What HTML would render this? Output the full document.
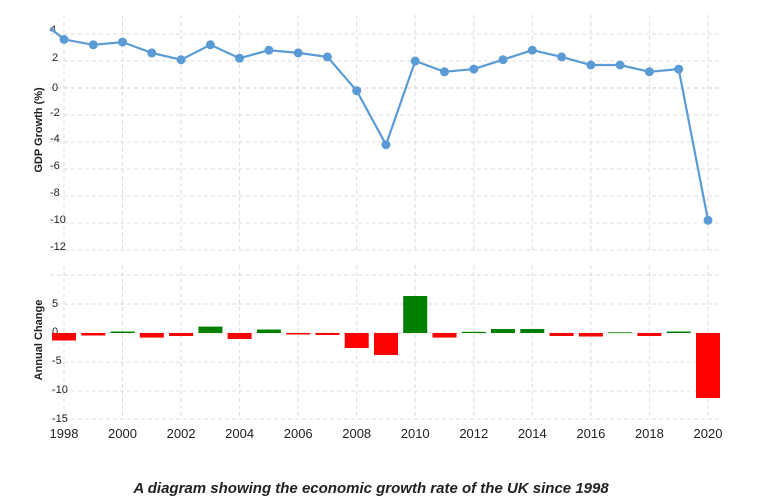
<!DOCTYPE html>
<html><head><meta charset="utf-8"><style>
body{margin:0;background:#fff;width:757px;height:500px;overflow:hidden}
svg{display:block}
.t{font-family:"Liberation Sans",sans-serif;font-size:11px;fill:#222}
.x{font-family:"Liberation Sans",sans-serif;font-size:13px;fill:#222}
.g{stroke:#ddd;stroke-dasharray:4 3;stroke-width:1}
</style></head><body>
<svg width="757" height="500" viewBox="0 0 757 500">
<g class="g">
<line x1="50" y1="34" x2="723" y2="34"/><line x1="50" y1="61" x2="723" y2="61"/><line x1="50" y1="88" x2="723" y2="88" stroke="#ccc"/><line x1="50" y1="115" x2="723" y2="115"/><line x1="50" y1="142" x2="723" y2="142"/><line x1="50" y1="169" x2="723" y2="169"/><line x1="50" y1="196" x2="723" y2="196"/><line x1="50" y1="223" x2="723" y2="223"/><line x1="50" y1="250" x2="723" y2="250"/>
<line x1="50" y1="275" x2="723" y2="275"/><line x1="50" y1="304" x2="723" y2="304"/><line x1="50" y1="333" x2="723" y2="333"/><line x1="50" y1="362" x2="723" y2="362"/><line x1="50" y1="391" x2="723" y2="391"/><line x1="50" y1="419" x2="723" y2="419"/>
<line x1="64" y1="15" x2="64" y2="250"/><line x1="122.5" y1="15" x2="122.5" y2="250"/><line x1="181.1" y1="15" x2="181.1" y2="250"/><line x1="239.6" y1="15" x2="239.6" y2="250"/><line x1="298.2" y1="15" x2="298.2" y2="250"/><line x1="356.7" y1="15" x2="356.7" y2="250"/><line x1="415.2" y1="15" x2="415.2" y2="250"/><line x1="473.8" y1="15" x2="473.8" y2="250"/><line x1="532.3" y1="15" x2="532.3" y2="250"/><line x1="590.9" y1="15" x2="590.9" y2="250"/><line x1="649.4" y1="15" x2="649.4" y2="250"/><line x1="708" y1="15" x2="708" y2="250"/>
<line x1="64" y1="265" x2="64" y2="419"/><line x1="122.5" y1="265" x2="122.5" y2="419"/><line x1="181.1" y1="265" x2="181.1" y2="419"/><line x1="239.6" y1="265" x2="239.6" y2="419"/><line x1="298.2" y1="265" x2="298.2" y2="419"/><line x1="356.7" y1="265" x2="356.7" y2="419"/><line x1="415.2" y1="265" x2="415.2" y2="419"/><line x1="473.8" y1="265" x2="473.8" y2="419"/><line x1="532.3" y1="265" x2="532.3" y2="419"/><line x1="590.9" y1="265" x2="590.9" y2="419"/><line x1="649.4" y1="265" x2="649.4" y2="419"/><line x1="708" y1="265" x2="708" y2="419"/>
</g>
<g class="t" text-anchor="start">
<text x="50" y="33">4</text><text x="52" y="61">2</text><text x="52" y="91">0</text><text x="50" y="116">-2</text><text x="50" y="142">-4</text><text x="50" y="169">-6</text><text x="50" y="196">-8</text><text x="50" y="223">-10</text><text x="50" y="250">-12</text>
<text x="52" y="307">5</text><text x="52" y="335">0</text><text x="52" y="364">-5</text><text x="52" y="393">-10</text><text x="52" y="422">-15</text>
</g>
<text class="t" font-weight="bold" transform="translate(42,130) rotate(-90)" text-anchor="middle">GDP Growth (%)</text>
<text class="t" font-weight="bold" transform="translate(42,340) rotate(-90)" text-anchor="middle">Annual Change</text>
<polyline fill="none" stroke="#5b9bd5" stroke-width="2.2" points="50,28 64,39.4 93.3,44.8 122.5,42.1 151.8,52.9 181.1,59.7 210.4,44.8 239.6,58.3 268.9,50.2 298.2,52.9 327.4,56.9 356.7,90.7 386,144.7 415.2,61 444.5,71.8 473.8,69.1 503,59.7 532.3,50.2 561.6,56.9 590.9,65 620.1,65 649.4,71.8 678.7,69.1 708,220.3"/>
<g fill="#5b9bd5">
<circle cx="64" cy="39.4" r="4.5"/><circle cx="93.3" cy="44.8" r="4.5"/><circle cx="122.5" cy="42.1" r="4.5"/><circle cx="151.8" cy="52.9" r="4.5"/><circle cx="181.1" cy="59.7" r="4.5"/><circle cx="210.4" cy="44.8" r="4.5"/><circle cx="239.6" cy="58.3" r="4.5"/><circle cx="268.9" cy="50.2" r="4.5"/><circle cx="298.2" cy="52.9" r="4.5"/><circle cx="327.4" cy="56.9" r="4.5"/><circle cx="356.7" cy="90.7" r="4.5"/><circle cx="386" cy="144.7" r="4.5"/><circle cx="415.2" cy="61" r="4.5"/><circle cx="444.5" cy="71.8" r="4.5"/><circle cx="473.8" cy="69.1" r="4.5"/><circle cx="503" cy="59.7" r="4.5"/><circle cx="532.3" cy="50.2" r="4.5"/><circle cx="561.6" cy="56.9" r="4.5"/><circle cx="590.9" cy="65" r="4.5"/><circle cx="620.1" cy="65" r="4.5"/><circle cx="649.4" cy="71.8" r="4.5"/><circle cx="678.7" cy="69.1" r="4.5"/><circle cx="708" cy="220.3" r="4.5"/>
</g>
<g fill="#ff0000">
<rect x="52" y="333" width="24" height="7.5"/><rect x="81.3" y="333" width="24" height="2.5"/><rect x="139.8" y="333" width="24" height="4.6"/><rect x="169.1" y="333" width="24" height="3"/><rect x="227.6" y="333" width="24" height="6"/><rect x="286.2" y="333" width="24" height="1.5"/><rect x="315.4" y="333" width="24" height="2"/><rect x="344.7" y="333" width="24" height="15"/><rect x="374" y="333" width="24" height="22"/><rect x="432.5" y="333" width="24" height="4.6"/><rect x="549.6" y="333" width="24" height="3"/><rect x="578.9" y="333" width="24" height="3.5"/><rect x="637.4" y="333" width="24" height="3"/><rect x="696" y="333" width="24" height="65"/>
</g>
<g fill="#008000">
<rect x="110.5" y="331.5" width="24" height="1.5"/><rect x="198.4" y="326.6" width="24" height="6.4"/><rect x="256.9" y="329.5" width="24" height="3.5"/><rect x="403.2" y="296" width="24" height="37"/><rect x="461.8" y="331.8" width="24" height="1.2"/><rect x="491" y="329" width="24" height="4"/><rect x="520.3" y="329" width="24" height="4"/><rect x="608.1" y="332.3" width="24" height="0.8"/><rect x="666.7" y="331.5" width="24" height="1.5"/>
</g>
<g class="x" text-anchor="middle">
<text x="64" y="438">1998</text><text x="122.5" y="438">2000</text><text x="181.1" y="438">2002</text><text x="239.6" y="438">2004</text><text x="298.2" y="438">2006</text><text x="356.7" y="438">2008</text><text x="415.2" y="438">2010</text><text x="473.8" y="438">2012</text><text x="532.3" y="438">2014</text><text x="590.9" y="438">2016</text><text x="649.4" y="438">2018</text><text x="708" y="438">2020</text>
</g>
<text x="371" y="493" text-anchor="middle" font-family="Liberation Sans, sans-serif" font-size="15" font-style="italic" font-weight="bold" fill="#222">A diagram showing the economic growth rate of the UK since 1998</text>
</svg>
</body></html>
